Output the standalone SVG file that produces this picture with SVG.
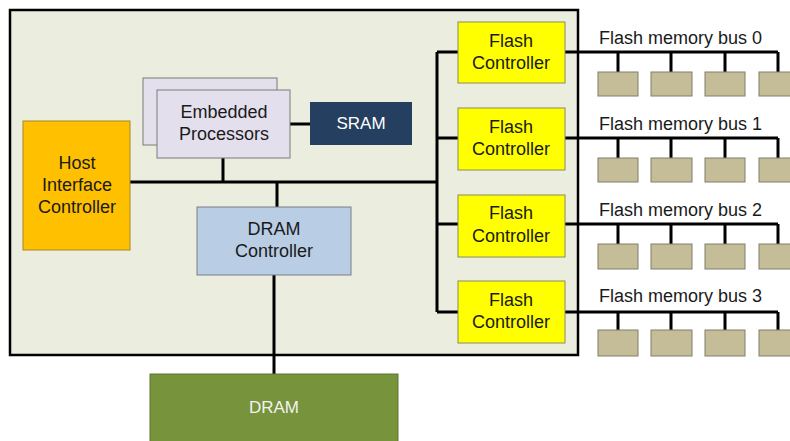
<svg xmlns="http://www.w3.org/2000/svg" width="790" height="441" viewBox="0 0 790 441">
  <style>
    text { font-family: "Liberation Sans", Arial, sans-serif; font-size: 18px; fill: #1a1a1a; text-anchor: middle; }
    .label { text-anchor: start; }
    .light { fill: #ffffff; font-size: 17px; }
    .wire { stroke: #000; stroke-width: 3; fill: none; }
    .chip { fill: #c4bd97; stroke: #7f7f6a; stroke-width: 1; }
    .fc { fill: #ffff00; stroke: #8c8c5a; stroke-width: 1; }
    .proc { fill: #e4dfec; stroke: #7a7a7a; stroke-width: 1; }
  </style>

  <!-- SSD controller board -->
  <rect id="board" x="10" y="10" width="568" height="345" fill="#ebeddf" stroke="#000" stroke-width="2.5"/>

  <!-- connectors -->
  <g id="connectors">
    <!-- internal system bus -->
    <path class="wire" d="M130 182 H437"/>
    <path class="wire" d="M437 52 V312"/>
    <path class="wire" d="M223 158 V182"/>
    <path class="wire" d="M277 182 V207"/>
    <path class="wire" d="M290 124 H310" stroke-width="2"/>
    <path class="wire" d="M274 275 V374" stroke-width="3.5"/>
    <!-- branches to flash controllers -->
    <path class="wire" d="M437 52 H458 M437 138 H458 M437 224 H458 M437 312 H458"/>
    <!-- flash memory buses -->
    <path class="wire" d="M565 52 H778 M618 52 V72 M671 52 V72 M725 52 V72 M778 52 V72"/>
    <path class="wire" d="M565 138 H778 M618 138 V158 M671 138 V158 M725 138 V158 M778 138 V158"/>
    <path class="wire" d="M565 224 H778 M618 224 V244 M671 224 V244 M725 224 V244 M778 224 V244"/>
    <path class="wire" d="M565 312 H778 M618 312 V330 M671 312 V330 M725 312 V330 M778 312 V330"/>
  </g>

  <g id="host-interface">
    <rect x="23" y="121" width="107" height="129" fill="#ffc000" stroke="#a8862a" stroke-width="1"/>
    <text x="77" y="169">Host</text>
    <text x="77" y="191">Interface</text>
    <text x="77" y="213">Controller</text>
  </g>

  <g id="embedded-processors">
    <rect class="proc" x="143" y="78" width="134" height="67"/>
    <rect class="proc" x="157" y="90" width="133" height="68"/>
    <text x="224" y="118">Embedded</text>
    <text x="224" y="140">Processors</text>
  </g>

  <g id="sram">
    <rect x="310" y="102" width="102" height="43" fill="#243f60"/>
    <text class="light" x="361" y="129">SRAM</text>
  </g>

  <g id="dram-controller">
    <rect x="197" y="207" width="154" height="68" fill="#b9cde5" stroke="#7a7f88" stroke-width="1"/>
    <text x="274" y="235">DRAM</text>
    <text x="274" y="257">Controller</text>
  </g>

  <g id="dram">
    <rect x="150" y="374" width="248" height="70" fill="#77933c" stroke="#5e7530" stroke-width="1"/>
    <text class="light" x="274" y="413" style="fill:#f2f2f2">DRAM</text>
  </g>

  <g id="flash-controller-0">
    <rect class="fc" x="458" y="22" width="107" height="61"/>
    <text x="511" y="47">Flash</text>
    <text x="511" y="69">Controller</text>
  </g>
  <g id="flash-controller-1">
    <rect class="fc" x="458" y="108" width="107" height="62"/>
    <text x="511" y="133">Flash</text>
    <text x="511" y="155">Controller</text>
  </g>
  <g id="flash-controller-2">
    <rect class="fc" x="458" y="195" width="107" height="62"/>
    <text x="511" y="219">Flash</text>
    <text x="511" y="242">Controller</text>
  </g>
  <g id="flash-controller-3">
    <rect class="fc" x="458" y="281" width="107" height="62"/>
    <text x="511" y="306">Flash</text>
    <text x="511" y="328">Controller</text>
  </g>

  <g id="flash-bus-0">
    <text class="label" x="599" y="44">Flash memory bus 0</text>
    <rect class="chip" x="598" y="72" width="40" height="24"/>
    <rect class="chip" x="651" y="72" width="41" height="24"/>
    <rect class="chip" x="705" y="72" width="40" height="24"/>
    <rect class="chip" x="759" y="72" width="40" height="24"/>
  </g>
  <g id="flash-bus-1">
    <text class="label" x="599" y="130">Flash memory bus 1</text>
    <rect class="chip" x="598" y="158" width="40" height="24"/>
    <rect class="chip" x="651" y="158" width="41" height="24"/>
    <rect class="chip" x="705" y="158" width="40" height="24"/>
    <rect class="chip" x="759" y="158" width="40" height="24"/>
  </g>
  <g id="flash-bus-2">
    <text class="label" x="599" y="216">Flash memory bus 2</text>
    <rect class="chip" x="598" y="244" width="40" height="25"/>
    <rect class="chip" x="651" y="244" width="41" height="25"/>
    <rect class="chip" x="705" y="244" width="40" height="25"/>
    <rect class="chip" x="759" y="244" width="40" height="25"/>
  </g>
  <g id="flash-bus-3">
    <text class="label" x="599" y="302">Flash memory bus 3</text>
    <rect class="chip" x="598" y="330" width="40" height="26"/>
    <rect class="chip" x="651" y="330" width="41" height="26"/>
    <rect class="chip" x="705" y="330" width="40" height="26"/>
    <rect class="chip" x="759" y="330" width="40" height="26"/>
  </g>
</svg>
